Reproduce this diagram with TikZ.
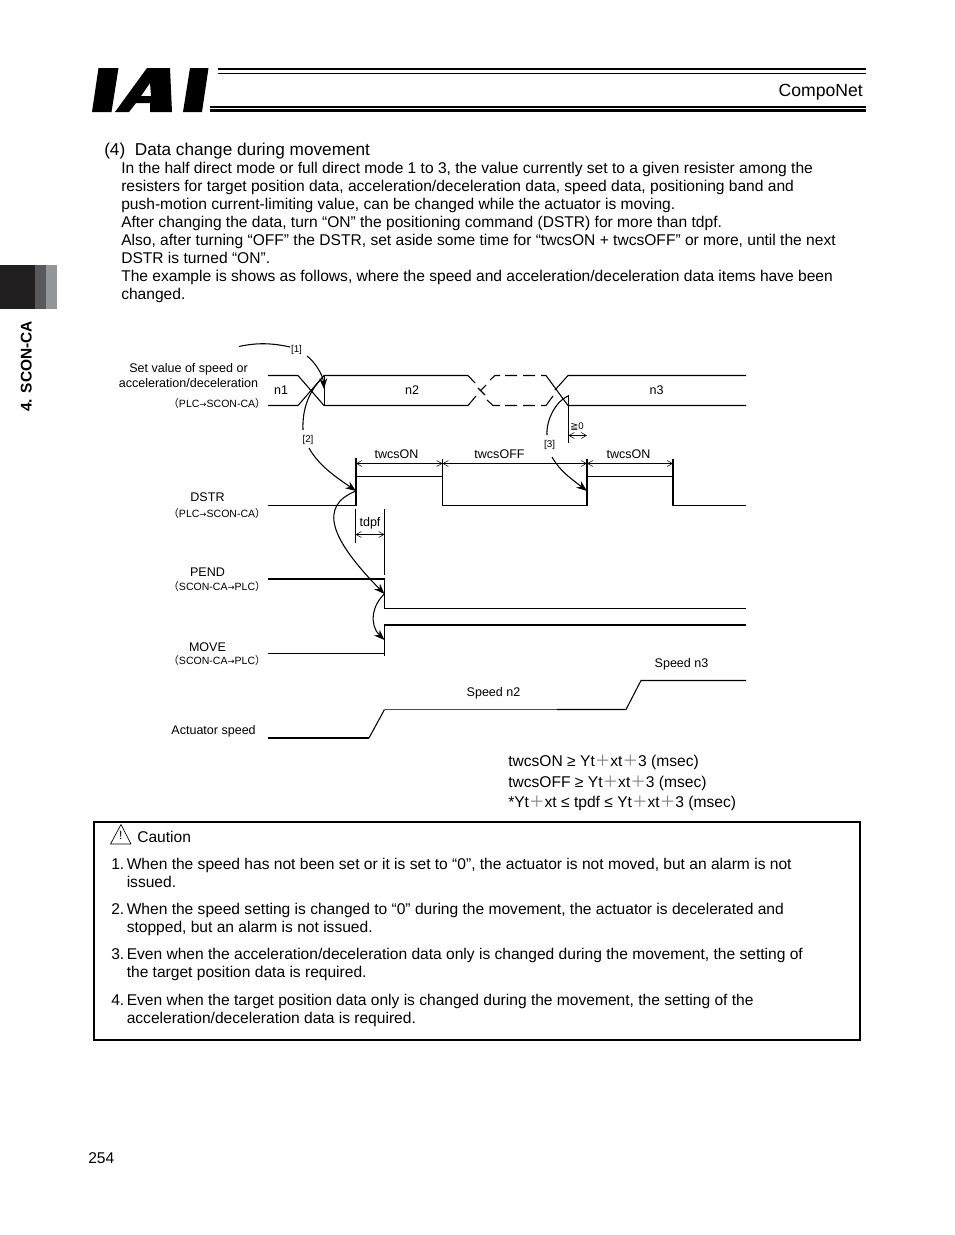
\documentclass[tikz,border=0pt]{standalone}
\usepackage{fontspec}
\setmainfont{Liberation Sans}
\newfontfamily\cjk{Noto Sans CJK JP}
\newfontfamily\dejavu{DejaVu Sans}
\usepackage{xcolor}
\usetikzlibrary{arrows.meta, positioning, calc}
\definecolor{cdark}{RGB}{35,31,32}
\definecolor{cmid}{RGB}{88,89,91}
\definecolor{clight}{RGB}{147,149,152}
\newcommand{\pls}{{\cjk\color{gray}＋}}
\newcommand{\dirlbl}[1]{{\cjk （}#1{\cjk ）}}
\newcommand{\toarr}{{\dejavu\fontsize{6.4pt}{8pt}\selectfont →}}

\begin{document}
\begin{tikzpicture}[
  x=0.75pt, y=-0.75pt,
  body/.style   = {inner sep=0pt, anchor=base west, font=\fontsize{11.68pt}{14pt}\selectfont},
  formula/.style= {inner sep=0pt, anchor=base west, font=\fontsize{11.7pt}{14pt}\selectfont},
  sig/.style    = {font=\fontsize{9.4pt}{11pt}\selectfont, inner sep=0pt},
  dirn/.style   = {font=\fontsize{7.9pt}{9pt}\selectfont, inner sep=0pt},
  tag/.style    = {font=\fontsize{7.4pt}{9pt}\selectfont, inner sep=0pt},
  wave/.style   = {line width=0.8pt, black},
  hwave/.style  = {line width=1.6pt, black},
  dim/.style    = {{Straight Barb[length=4pt,width=4.5pt]}-{Straight Barb[length=4pt,width=4.5pt]}, line width=0.4pt},
  arr/.style    = {-{Stealth[length=8pt,width=6pt]}, line width=0.8pt},
  plain/.style  = {line width=0.8pt},
]
\useasboundingbox (0,0) rectangle (954,1235);

% logo and header
\fill (98.5,68) -- (118.5,68) -- (111.5,112) -- (92,112) -- cycle;
\fill[even odd rule] (115,112) -- (147,68) -- (170,68) -- (172,112) -- (150,112) -- (150,103) -- (136,103) -- (129,112) -- cycle
  (150,83) -- (141,96) -- (151,96) -- cycle;
\fill (190,68) -- (208.5,68) -- (202,112) -- (183,112) -- cycle;
\draw[line width=1.8pt] (218,69) -- (866,69);
\draw[line width=0.8pt] (218,73.5) -- (866,73.5);
\draw[line width=0.8pt] (210,107) -- (866,107);
\draw[line width=1.8pt] (210,110.5) -- (866,110.5);
\node[body, anchor=base east, font=\fontsize{13.2pt}{15pt}\selectfont] (prod) at (863,96) {CompoNet};

% side tab
\fill[cdark]  (0,265) rectangle (35,309);
\fill[cmid]   (35,265) rectangle (46,309);
\fill[clight] (46,265) rectangle (57,309);
\node[rotate=90, inner sep=0pt, font=\fontsize{11.6pt}{13pt}\selectfont\bfseries, anchor=base] (chap) at (31.5,366.5) {4. SCON-CA};

% intro text
\node[body, font=\fontsize{12.9pt}{15pt}\selectfont] (title) at (104,155) {(4)\ \ Data change during movement};
\node[body] (l1) at (121,173) {In the half direct mode or full direct mode 1 to 3, the value currently set to a given resister among the};
\node[body] (l2) at (121,191) {resisters for target position data, acceleration/deceleration data, speed data, positioning band and};
\node[body] (l3) at (121,209) {push-motion current-limiting value, can be changed while the actuator is moving.};
\node[body] (l4) at (121,227) {After changing the data, turn “ON” the positioning command (DSTR) for more than tdpf.};
\node[body] (l5) at (121,245) {Also, after turning “OFF” the DSTR, set aside some time for “twcsON + twcsOFF” or more, until the next};
\node[body] (l6) at (121,263) {DSTR is turned “ON”.};
\node[body] (l7) at (121,281) {The example is shows as follows, where the speed and acceleration/deceleration data items have been};
\node[body] (l8) at (121,299) {changed.};

% signal names
\node[sig] (setv)  at (188.5,369) {Set value of speed or};
\node[sig] (accv)  at (188.5,383) {acceleration/deceleration};
\node[dirn, anchor=east] (setd)  at (266,403) {\dirlbl{PLC\toarr SCON-CA}};
\node[sig] (dstr)  at (207.5,497.5) {DSTR};
\node[dirn, anchor=east] (dstrd) at (266,513) {\dirlbl{PLC\toarr SCON-CA}};
\node[sig] (pend)  at (207.5,572) {PEND};
\node[dirn, anchor=east] (pendd) at (266,586.5) {\dirlbl{SCON-CA\toarr PLC}};
\node[sig] (move)  at (207.5,647) {MOVE};
\node[dirn, anchor=east] (moved) at (266,660.5) {\dirlbl{SCON-CA\toarr PLC}};
\node[sig, anchor=east] (aspd) at (256,731) {Actuator speed};

% data row
\draw[wave] (268,375.5) -- (298,375.5) -- (324,405.5) -- (468,405.5) -- (476,396);
\draw[wave] (268,405.5) -- (298,405.5) -- (324,375.5) -- (468,375.5) -- (475,383);
\draw[wave] (478,388) -- (485,395) (487,400) -- (493,405.5) -- (500,405.5) (505,405.5) -- (517,405.5) (523,405.5) -- (535,405.5) (541,405.5) -- (546,405.5) -- (553,396)
  (486,385) -- (480,391) (490,380) -- (495,375.5) -- (500,375.5) (505,375.5) -- (517,375.5) (523,375.5) -- (535,375.5);
\draw[wave] (541,375.5) -- (546,375.5) -- (568,405.5) -- (746,405.5);
\draw[wave] (555,390) -- (568,375.5) -- (746,375.5);
\draw[plain] (324.5,375.5) -- (324.5,405.5);
\draw[plain] (568.5,395) -- (568.5,443);
\node[sig] (n1) at (281,390.5) {n1};
\node[sig] (n2) at (412,390.5) {n2};
\node[sig] (n3) at (656.5,390.5) {n3};

% zero margin
\coordinate (za) at (568.5,435.5);
\coordinate (zb) at (587,435.5);
\draw[dim] (za) -- (zb);
\node[inner sep=0pt, font=\fontsize{7.2pt}{8pt}\selectfont] (zero) at (577,427) {{\dejavu ≧}0};

% DSTR
\draw[wave] (268,505.5) -- (356,505.5) -- (356,476.5) -- (442.5,476.5) -- (442.5,505.5) -- (587,505.5) -- (587,476.5) -- (673,476.5) -- (673,505.5) -- (746,505.5);
\draw[hwave] (356,458) -- (356,491);
\draw[hwave] (587,476.5) -- (587,505.5);
\draw[hwave] (673,476.5) -- (673,505.5);
\draw[plain] (442.5,459) -- (442.5,476.5);
\draw[plain] (587,459) -- (587,476.5);
\draw[plain] (673,459) -- (673,476.5);
\coordinate (ta) at (356,463.5);
\coordinate (tb) at (442.5,463.5);
\coordinate (tc) at (587,463.5);
\coordinate (td) at (673,463.5);
\draw[dim] (ta) -- (tb);
\draw[dim] (tb) -- (tc);
\draw[dim] (tc) -- (td);
\node[sig] (won1) at (396.5,454.5) {twcsON};
\node[sig] (woff) at (499.5,454.5) {twcsOFF};
\node[sig] (won2) at (628.5,454.5) {twcsON};

% tdpf
\draw[plain] (355.5,509) -- (355.5,543);
\draw[plain] (384.5,509) -- (384.5,575);
\coordinate (pa) at (355.5,534.5);
\coordinate (pb) at (384.5,534.5);
\draw[dim] (pa) -- (pb);
\node[sig] (tdpf) at (370,523) {tdpf};

% PEND and MOVE
\draw[hwave] (268,579) -- (385,579);
\draw[wave] (384.5,579) -- (384.5,608.5) -- (746,608.5);
\draw[wave] (268,653.5) -- (384.5,653.5) -- (384.5,625);
\draw[plain] (384.5,653) -- (384.5,656);
\draw[hwave] (384,625) -- (746,625);

% actuator speed
\draw[hwave] (268,738) -- (369,738);
\draw[wave] (369,738) -- (384.5,709.5);
\draw[line width=1pt, black!70] (384.5,709.5) -- (557,709.5);
\draw[wave] (557,709.5) -- (626,709.5) -- (641,680.5) -- (746,680.5);
\node[sig] (sn2) at (493.5,693) {Speed n2};
\node[sig] (sn3) at (681.5,664) {Speed n3};

% sequence arrows
\coordinate (s1) at (239,346.5);
\coordinate (s1e) at (290,347);
\coordinate (s1b) at (307,356);
\coordinate (s1t) at (324,389);
\coordinate (s2) at (323,377);
\coordinate (s2e) at (303,430);
\coordinate (s2b) at (309,448);
\coordinate (s2t) at (356,491);
\coordinate (s4t) at (384.5,594);
\coordinate (s5t) at (384.5,640);
\coordinate (s3) at (568,396);
\coordinate (s3e) at (547,435);
\coordinate (s3b) at (552,457);
\coordinate (s3t) at (587,491);
\draw[plain] (s1) .. controls +(18,-4) and +(-18,-4) .. (s1e);
\draw[arr] (s1b) .. controls +(8,6) and +(-1,-14) .. (s1t);
\draw[plain] (s2) .. controls +(-12,12) and +(-1,-24) .. (s2e);
\draw[arr] (s2b) .. controls +(10,18) and +(-20,-14) .. (s2t);
\draw[arr] (s2t) .. controls +(-38,15) and +(-54,-55) .. (s4t);
\draw[arr] (s4t) .. controls +(-12.5,11) and +(-15.5,-15) .. (s5t);
\draw[plain] (s3) .. controls +(-12,5) and +(-1,-15) .. (s3e);
\draw[arr] (s3b) .. controls +(8,14) and +(-18,-14) .. (s3t);
\node[tag] (m1) at (296.5,349.5) {[1]};
\node[tag] (m2) at (308,440) {[2]};
\node[tag] (m3) at (549.5,444.5) {[3]};

% timing formulas
\node[formula] (f1) at (508,766) {twcsON ≥ Yt\pls xt\pls 3 (msec)};
\node[formula] (f2) at (508,787) {twcsOFF ≥ Yt\pls xt\pls 3 (msec)};
\node[formula] (f3) at (508,807) {*Yt\pls xt ≤ tpdf ≤ Yt\pls xt\pls 3 (msec)};

% caution box
\draw[line width=1.5pt] (94,821.5) rectangle (860,1040);
\draw[line width=0.5pt, line join=round] (121,824.5) -- (131,844) -- (110.5,844) -- cycle;
\node[inner sep=0pt, font=\fontsize{9pt}{10pt}\selectfont] (warn) at (120.8,835.5) {!};
\node[body] (caut) at (137,842.5) {Caution};
\node[body] (c1) at (111,869) {1.};
\node[body] (c1a) at (126.5,869) {When the speed has not been set or it is set to “0”, the actuator is not moved, but an alarm is not};
\node[body] (c1b) at (126.5,887) {issued.};
\node[body] (c2) at (111,914) {2.};
\node[body] (c2a) at (126.5,914) {When the speed setting is changed to “0” during the movement, the actuator is decelerated and};
\node[body] (c2b) at (126.5,932) {stopped, but an alarm is not issued.};
\node[body] (c3) at (111,959) {3.};
\node[body] (c3a) at (126.5,959) {Even when the acceleration/deceleration data only is changed during the movement, the setting of};
\node[body] (c3b) at (126.5,977) {the target position data is required.};
\node[body] (c4) at (111,1005) {4.};
\node[body] (c4a) at (126.5,1005) {Even when the target position data only is changed during the movement, the setting of the};
\node[body] (c4b) at (126.5,1023) {acceleration/deceleration data is required.};

\node[body] (page) at (88,1163.5) {254};
\end{tikzpicture}
\end{document}
